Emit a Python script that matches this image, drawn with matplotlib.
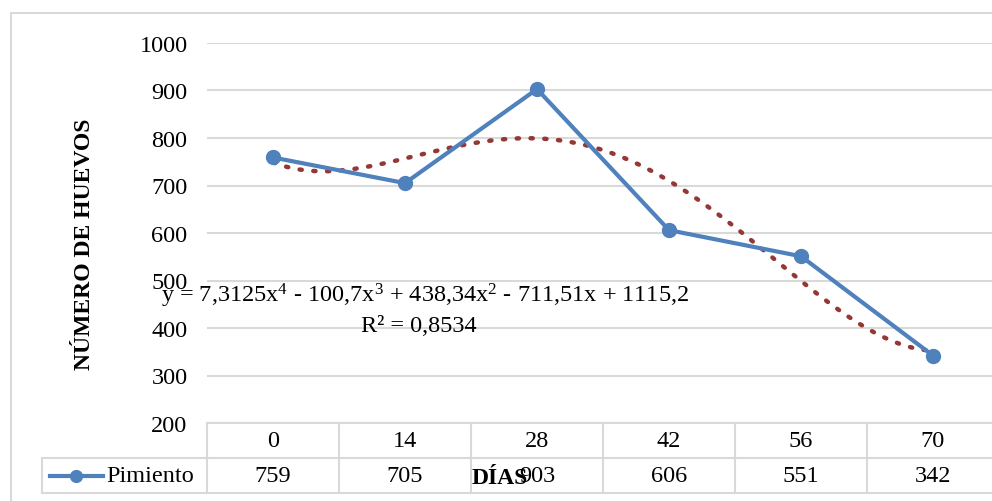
import matplotlib
import numpy as np

matplotlib.use('Agg')
from matplotlib import pyplot as plt
from matplotlib.patches import Rectangle
from matplotlib.lines import Line2D
import matplotlib.transforms as mtransforms

dias = ['0', '14', '28', '42', '56', '70']
pimiento = [759, 705, 903, 606, 551, 342]
y_ticks = [200, 300, 400, 500, 600, 700, 800, 900, 1000]
serie = 'Pimiento'

W, H = 992, 502
BLUE = '#4f81bd'
RED = '#953735'
GRID = '#d9d9d9'
FS = 17.5

plt.rcParams['font.family'] = ['Liberation Serif', 'DejaVu Serif']
plt.rcParams['mathtext.fontset'] = 'custom'
plt.rcParams['mathtext.rm'] = 'Liberation Serif'
plt.rcParams['mathtext.it'] = 'Liberation Serif:italic'
plt.rcParams['mathtext.bf'] = 'Liberation Serif:bold'


def fx(px):
    return px / W


def fy(py):
    return 1 - py / H


fig = plt.figure(figsize=(W / 100, H / 100), dpi=100)
fig.patches.append(Rectangle((fx(11), fy(540)), fx(1100), fy(14) - fy(540),
                             transform=fig.transFigure, fill=False,
                             edgecolor=GRID, lw=1.5))

left, right, top, bottom = 207, 999, 44, 424
ax = fig.add_axes([fx(left), fy(bottom), fx(right - left), fy(top) - fy(bottom)])
ax.set_xlim(-0.5, len(dias) - 0.5)
ax.set_ylim(200, 1000)
for s in ax.spines.values():
    s.set_visible(False)
ax.set_yticks(y_ticks)
ax.tick_params(axis='y', length=0, pad=14, labelsize=FS)
ax.set_xticks([])
ax.grid(axis='y', color=GRID, lw=1.5)
ax.set_axisbelow(True)

x = np.arange(len(dias))
ax.plot(x, pimiento, color=BLUE, lw=3, marker='o', markersize=10, zorder=3, clip_on=False)

# polynomial trend (order 4) like Excel, x = 1..n
xx = np.arange(1, len(pimiento) + 1)
coef = np.polyfit(xx, pimiento, 4)
xs = np.linspace(1, len(pimiento), 200)
ax.plot(xs - 1, np.polyval(coef, xs), color=RED, lw=3.2, ls=(0, (0.5, 2.6)),
        dash_capstyle='round', zorder=2)
fit = np.polyval(coef, xx)
r2 = 1 - np.sum((np.array(pimiento) - fit) ** 2) / np.sum((np.array(pimiento) - np.mean(pimiento)) ** 2)

tr = mtransforms.blended_transform_factory(ax.transData, fig.transFigure)
fig.text(fx(425), fy(296), 'y = 7,3125x$^{4}$ - 100,7x$^{3}$ + 438,34x$^{2}$ - 711,51x + 1115,2',
         ha='center', va='center', fontsize=FS)
fig.text(fx(419), fy(327), 'R² = ' + f'{r2:.4f}'.replace('.', ','),
         ha='center', va='center', fontsize=FS)

# data table under the plot
row1, row2, row3 = 424, 459, 494
fig.add_artist(Line2D([fx(left), fx(W + 10)], [fy(row1), fy(row1)], color=GRID, lw=1.5))
for yy in (row2, row3):
    fig.add_artist(Line2D([fx(42), fx(W + 10)], [fy(yy), fy(yy)], color=GRID, lw=1.5))
for i in range(len(dias) + 1):
    ax.add_line(Line2D([i - 0.5, i - 0.5], [fy(row1), fy(row3)], transform=tr,
                       color=GRID, lw=1.5, clip_on=False))
fig.add_artist(Line2D([fx(42), fx(42)], [fy(row2), fy(row3)], color=GRID, lw=1.5))

for i, (d, v) in enumerate(zip(dias, pimiento)):
    ax.text(i, fy(442), d, transform=tr, ha='center', va='center', fontsize=FS)
    ax.text(i, fy(477), str(v), transform=tr, ha='center', va='center', fontsize=FS)

fig.add_artist(Line2D([fx(50), fx(103)], [fy(477), fy(477)], color=BLUE, lw=3))
fig.add_artist(Line2D([fx(76)], [fy(477)], color=BLUE, marker='o', markersize=8.5))
fig.text(fx(106), fy(477), serie, ha='left', va='center', fontsize=FS)

fig.text(fx(500), fy(479), 'DÍAS', ha='center', va='center', fontsize=17, fontweight='bold')
fig.text(fx(85), fy(244), 'NÚMERO DE HUEVOS', ha='center', va='center', rotation=90,
         fontsize=17, fontweight='bold')

fig.savefig('out.png', dpi=100)
